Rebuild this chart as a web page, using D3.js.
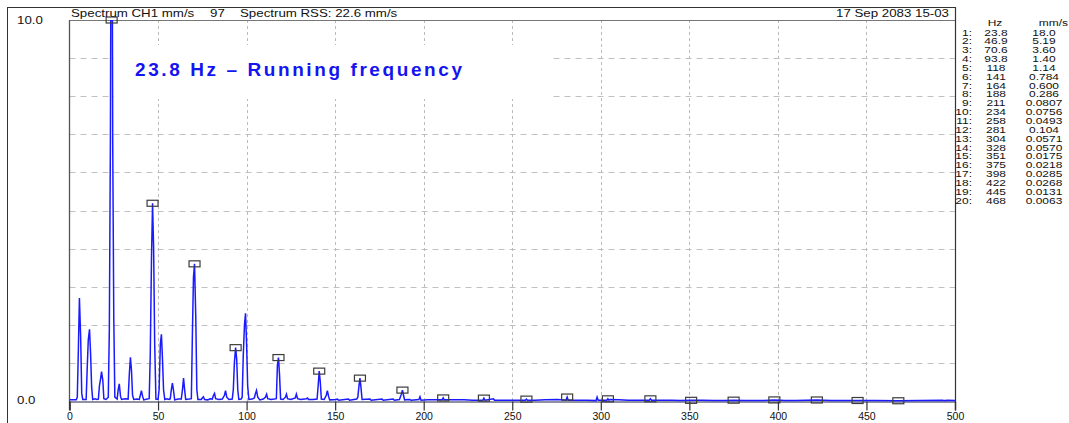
<!DOCTYPE html>
<html>
<head>
<meta charset="utf-8">
<script src="https://cdn.jsdelivr.net/npm/d3@7"></script>
<style>
  html, body { margin: 0; padding: 0; background: #ffffff; }
  svg { display: block; font-family: "Liberation Sans", Arial, sans-serif; }
</style>
</head>
<body>
<svg id="chart" width="1069" height="423"></svg>
<script>
// ---- Data -------------------------------------------------------------
// Frequency axis ticks (Hz)
const xTicks = [0, 50, 100, 150, 200, 250, 300, 350, 400, 450, 500];
// Amplitude labels shown on the left (mm/s)
const yTickLabels = ["10.0", "0.0"];
// Horizontal grid levels (mm/s)
const yGrid = [1, 2, 3, 4, 5, 6, 7, 8, 9];

// Peak list: harmonic frequencies and amplitudes as listed
const peakHzLabels = ["23.8", "46.9", "70.6", "93.8", "118", "141", "164", "188", "211", "234",
                      "258", "281", "304", "328", "351", "375", "398", "422", "445", "468"];
const peakMmsLabels = ["18.0", "5.19", "3.60", "1.40", "1.14", "0.784", "0.600", "0.286", "0.0807", "0.0756",
                       "0.0493", "0.104", "0.0571", "0.0570", "0.0175", "0.0218", "0.0285", "0.0268", "0.0131", "0.0063"];

// Spectrum trace vertices: [Hz, mm/s]
const spectrum = [
  [0.0, 0.03], [3.8, 0.03], [4.4, 0.10], [5.0, 1.33], [5.6, 2.70], [6.3, 1.68], [6.9, 0.20], [7.5, 0.04],
  [9.4, 0.04], [10.0, 0.86], [10.6, 1.60], [11.3, 1.88], [11.9, 1.25], [12.5, 0.37], [13.1, 0.04],
  [14.4, 0.06], [15.6, 0.04], [16.3, 0.05], [16.9, 0.40], [17.5, 0.57], [18.1, 0.77], [18.8, 0.55], [19.4, 0.06],
  [20.6, 0.04], [21.9, 0.10], [22.5, 1.90], [23.1, 6.90], [23.8, 18.0], [24.4, 6.80], [25.0, 2.20], [25.6, 0.10],
  [26.9, 0.05], [27.5, 0.30], [28.1, 0.45], [28.8, 0.12], [29.4, 0.04], [31.3, 0.06],
  [33.1, 0.05], [33.8, 0.72], [34.4, 1.15], [35.0, 0.80], [35.6, 0.15], [36.3, 0.04],
  [38.1, 0.05], [39.4, 0.04], [40.0, 0.15], [40.6, 0.27], [41.3, 0.12], [41.9, 0.03], [43.8, 0.05],
  [45.0, 0.06], [45.6, 1.20], [46.3, 3.75], [46.9, 5.19], [47.5, 4.00], [48.1, 1.50], [48.8, 0.05],
  [50.0, 0.04], [50.6, 0.30], [51.3, 1.50], [51.9, 1.75], [52.5, 1.10], [53.1, 0.30], [53.8, 0.04],
  [55.0, 0.06], [56.3, 0.04], [56.9, 0.06], [57.5, 0.30], [58.1, 0.47], [58.8, 0.25], [59.4, 0.03],
  [61.3, 0.05], [63.1, 0.05], [63.8, 0.30], [64.4, 0.60], [65.0, 0.30], [65.6, 0.04], [67.5, 0.05],
  [68.8, 0.06], [69.4, 1.78], [70.0, 3.25], [70.6, 3.60], [71.3, 2.20], [71.9, 0.30], [72.5, 0.04],
  [74.4, 0.04], [75.0, 0.08], [75.6, 0.11], [76.3, 0.04], [78.1, 0.03], [79.4, 0.06],
  [80.6, 0.05], [81.3, 0.15], [81.9, 0.20], [82.5, 0.06], [84.4, 0.04], [86.3, 0.05],
  [87.5, 0.15], [88.1, 0.27], [88.8, 0.10], [90.0, 0.04], [91.9, 0.05],
  [92.5, 0.30], [93.1, 1.00], [93.8, 1.40], [94.4, 1.10], [95.0, 0.30], [95.6, 0.04],
  [96.9, 0.05], [97.5, 0.10], [98.1, 1.16], [98.8, 2.00], [99.4, 2.30], [100.0, 1.50], [100.6, 0.40], [101.3, 0.04],
  [103.1, 0.05], [104.4, 0.08], [105.0, 0.20], [105.6, 0.28], [106.3, 0.10], [107.5, 0.03],
  [109.4, 0.05], [110.6, 0.10], [111.3, 0.18], [111.9, 0.06], [113.8, 0.04], [115.6, 0.05],
  [116.8, 0.06], [117.4, 0.94], [118.0, 1.14], [118.6, 0.68], [119.2, 0.05],
  [120.6, 0.04], [121.9, 0.10], [122.5, 0.18], [123.1, 0.06], [125.0, 0.04],
  [127.5, 0.08], [128.1, 0.18], [128.8, 0.06], [130.6, 0.04], [133.8, 0.06], [134.4, 0.08], [135.0, 0.04],
  [137.5, 0.04], [139.8, 0.05], [140.4, 0.40], [141.0, 0.784], [141.6, 0.50], [142.2, 0.05],
  [143.8, 0.04], [145.0, 0.15], [145.6, 0.27], [146.3, 0.12], [146.9, 0.03],
  [150.6, 0.04], [151.3, 0.05], [152.0, 0.02], [157.5, 0.05], [158.1, 0.02],
  [162.2, 0.05], [162.8, 0.10], [163.4, 0.37], [164.0, 0.60], [164.6, 0.35], [165.2, 0.04],
  [169.7, 0.05], [170.3, 0.02], [176.5, 0.05], [177.1, 0.02], [182.8, 0.05], [183.4, 0.02],
  [186.3, 0.04], [187.4, 0.18], [188.0, 0.286], [188.6, 0.15], [189.2, 0.03],
  [192.0, 0.04], [193.0, 0.02], [197.3, 0.04], [197.9, 0.11], [198.5, 0.02],
  [202.3, 0.03], [206.2, 0.03], [210.4, 0.03], [211.0, 0.0807], [211.6, 0.03],
  [217.0, 0.03], [222.8, 0.03], [227.7, 0.02], [233.4, 0.02], [234.0, 0.0756], [234.6, 0.02],
  [239.4, 0.06], [240.0, 0.02], [246.0, 0.02], [253.0, 0.02], [257.4, 0.02], [258.0, 0.0493], [258.6, 0.02],
  [262.8, 0.02], [268.7, 0.03], [275.4, 0.04], [280.4, 0.02], [281.0, 0.104], [281.6, 0.02],
  [287.2, 0.02], [292.0, 0.02], [297.3, 0.01], [297.9, 0.10], [298.5, 0.02],
  [303.4, 0.02], [304.0, 0.0571], [304.6, 0.02], [305.2, 0.04], [310.0, 0.03], [315.5, 0.02],
  [321.0, 0.02], [327.4, 0.02], [328.0, 0.057], [328.6, 0.02], [334.0, 0.02], [340.0, 0.02],
  [345.0, 0.01], [351.0, 0.0175], [357.4, 0.02], [364.0, 0.01], [370.0, 0.01], [375.0, 0.0218],
  [381.0, 0.01], [388.0, 0.01], [392.0, 0.01], [398.0, 0.0285], [404.0, 0.01], [410.0, 0.01],
  [422.0, 0.0268], [430.0, 0.01], [445.0, 0.0131], [455.0, 0.01], [468.0, 0.0063], [480.0, 0.01],
  [493.0, 0.02], [494.0, 0.01], [496.0, 0.02], [500.0, 0.01]
];

// ---- Layout -----------------------------------------------------------
const svg = d3.select("#chart");
const plot = { left: 69.5, right: 955, top: 20, bottom: 401 };
const x = d3.scaleLinear().domain([0, 500]).range([plot.left, plot.right]);
const y = d3.scaleLinear().domain([0, 10]).range([plot.bottom, plot.top]);

const ink = "#333333";
const traceBlue = "#1a1aff";
const textInk = "#111111";
// The instrument font is wide: draw text horizontally stretched
const stretch = 1.33;

function wideText(g, str, px, py, size, anchor) {
  return g.append("text")
    .attr("transform", `translate(${px},${py}) scale(${stretch},1)`)
    .attr("text-anchor", anchor || "start")
    .attr("fill", textInk)
    .style("font-size", size + "px")
    .text(str);
}

// Outer window frame (top and left edges, right edge shared with the plot)
svg.append("line").attr("x1", 7).attr("x2", 955.5).attr("y1", 7.5).attr("y2", 7.5)
  .attr("stroke", ink).attr("stroke-width", 1);
svg.append("line").attr("x1", 7.5).attr("x2", 7.5).attr("y1", 7).attr("y2", 423)
  .attr("stroke", ink).attr("stroke-width", 1);

// Grid
const grid = svg.append("g");
grid.selectAll("line.h").data(yGrid).join("line")
  .attr("class", "h")
  .attr("x1", plot.left).attr("x2", plot.right)
  .attr("y1", d => Math.round(y(d)) + 0.5).attr("y2", d => Math.round(y(d)) + 0.5)
  .attr("stroke", "#c0c0c0").attr("stroke-width", 1).attr("stroke-dasharray", "6,5");
grid.selectAll("line.v").data(xTicks.slice(1, -1)).join("line")
  .attr("class", "v")
  .attr("x1", d => Math.round(x(d)) + 0.5).attr("x2", d => Math.round(x(d)) + 0.5)
  .attr("y1", plot.top).attr("y2", plot.bottom)
  .attr("stroke", "#bbbbbb").attr("stroke-width", 1).attr("stroke-dasharray", "3,3");

// White backing behind the running-frequency note
svg.append("rect").attr("x", 114).attr("y", 45).attr("width", 436).attr("height", 54)
  .attr("fill", "#ffffff");

// Plot border
svg.append("line").attr("x1", plot.left).attr("x2", plot.right).attr("y1", plot.top + 0.5).attr("y2", plot.top + 0.5)
  .attr("stroke", "#777777").attr("stroke-width", 1);
svg.append("line").attr("x1", plot.left).attr("x2", plot.left).attr("y1", plot.top).attr("y2", plot.bottom + 9)
  .attr("stroke", "#555555").attr("stroke-width", 1.3);
svg.append("line").attr("x1", plot.right + 0.5).attr("x2", plot.right + 0.5).attr("y1", 7).attr("y2", plot.bottom + 9)
  .attr("stroke", ink).attr("stroke-width", 1.2);

// Bottom axis with ticks
const xAxis = d3.axisBottom(x).tickValues(xTicks).tickSize(9).tickPadding(2).tickFormat(d3.format("d"));
const axisG = svg.append("g").attr("transform", `translate(0,${plot.bottom + 0.5})`).call(xAxis);
axisG.select(".domain").attr("stroke", "#222244").attr("stroke-width", 1.2);
axisG.selectAll(".tick line").attr("stroke", ink).attr("stroke-width", 1.2);
axisG.selectAll(".tick text").attr("fill", textInk).style("font-size", "10.5px")
  .style("font-family", "'Liberation Sans', Arial, sans-serif");

// Spectrum trace, clipped to the plot area
svg.append("clipPath").attr("id", "plotClip").append("rect")
  .attr("x", plot.left).attr("y", plot.top).attr("width", plot.right - plot.left).attr("height", plot.bottom - plot.top + 1);
const line = d3.line().x(d => x(d[0])).y(d => y(d[1]));
svg.append("path").datum(spectrum)
  .attr("clip-path", "url(#plotClip)")
  .attr("d", line)
  .attr("fill", "none").attr("stroke", traceBlue).attr("stroke-width", 1.5)
  .attr("stroke-linejoin", "miter");

// Peak markers (boxes), pinned at the top when the peak exceeds full scale
const peaks = peakHzLabels.map((h, i) => ({ hz: +h, mms: +peakMmsLabels[i] }));
svg.append("g").selectAll("rect").data(peaks).join("rect")
  .attr("x", d => x(d.hz) - 5.5)
  .attr("y", d => y(Math.min(d.mms, 10)) - 3)
  .attr("width", 11).attr("height", 6)
  .attr("fill", "none").attr("stroke", "#3c3c3c").attr("stroke-width", 1.2);

// Y labels
const yLab = svg.append("g");
yTickLabels.forEach(d => {
  wideText(yLab, d, 17, y(+d) + (+d === 10 ? 4 : 2.5), 10);
});

// Header line above the plot
const header = svg.append("g");
wideText(header, "Spectrum CH1 mm/s", 71, 17, 10);
wideText(header, "97", 210, 17, 10);
wideText(header, "Spectrum RSS: 22.6 mm/s", 240, 17, 10);
wideText(header, "17 Sep 2083 15-03", 949, 17, 10, "end");

// Running frequency note
svg.append("text")
  .attr("x", 135).attr("y", 75.5)
  .attr("textLength", 327).attr("lengthAdjust", "spacing")
  .attr("fill", "#1414f0").style("font-size", "19px").style("font-weight", "bold")
  .text("23.8 Hz \u2013 Running frequency");

// Peak table on the right
const table = svg.append("g");
const rowY = i => 35.5 + i * 8.85;
wideText(table, "Hz", 995, 25.5, 9, "middle");
wideText(table, "mm/s", 1068, 25.5, 9, "end");
peakHzLabels.forEach((h, i) => {
  wideText(table, `${i + 1}:`, 972, rowY(i), 9, "end");
  wideText(table, h, 996, rowY(i), 9, "middle");
  wideText(table, peakMmsLabels[i], 1044, rowY(i), 9, "middle");
});
</script>
</body>
</html>
